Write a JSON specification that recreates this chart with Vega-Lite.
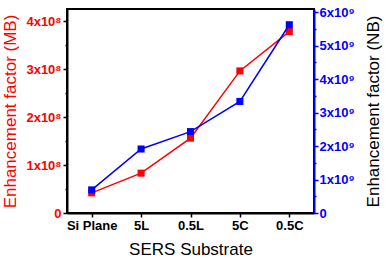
{
  "$schema": "https://vega.github.io/schema/vega-lite/v6.json",
  "width": 247,
  "height": 204,
  "autosize": {"type": "none"},
  "padding": {"left": 67, "top": 9, "right": 73, "bottom": 45},
  "config": {
    "view": {"stroke": "black", "strokeWidth": 2},
    "font": "Liberation Sans",
    "axis": {"labelFont": "Liberation Sans", "titleFont": "Liberation Sans", "grid": false}
  },
  "data": {
    "values": [
      {"substrate": "Si Plane", "mb": 42000000, "nb": 690000000},
      {"substrate": "5L", "mb": 83000000, "nb": 1910000000},
      {"substrate": "0.5L", "mb": 156000000, "nb": 2430000000},
      {"substrate": "5C", "mb": 296000000, "nb": 3330000000},
      {"substrate": "0.5C", "mb": 378000000, "nb": 5620000000}
    ]
  },
  "encoding": {
    "x": {
      "field": "substrate",
      "type": "nominal",
      "sort": ["Si Plane", "5L", "0.5L", "5C", "0.5C"],
      "scale": {"type": "point", "padding": 0.5},
      "axis": {
        "title": "SERS Substrate",
        "labelAngle": 0,
        "labelFontWeight": "bold",
        "labelFontSize": 13,
        "labelColor": "black",
        "labelPadding": 2,
        "titleFontSize": 17,
        "titleFontWeight": "normal",
        "titleColor": "black",
        "titlePadding": 9,
        "domainColor": "black",
        "domainWidth": 2,
        "tickColor": "black",
        "tickWidth": 1.5,
        "tickSize": 4
      }
    }
  },
  "layer": [
    {
      "encoding": {
        "y": {
          "field": "mb",
          "type": "quantitative",
          "scale": {"domain": [0, 425000000], "nice": false},
          "axis": {
            "orient": "left",
            "title": "Enhancement factor (MB)",
            "titleColor": "red",
            "titleFontSize": 17,
            "titleFontWeight": "normal",
            "titlePadding": 6,
            "labelColor": "red",
            "labelFontWeight": "bold",
            "labelFontSize": 13,
            "labelPadding": 2,
            "values": [0, 50000000, 100000000, 150000000, 200000000, 250000000, 300000000, 350000000, 400000000],
            "labelExpr": "datum.value % 100000000 == 0 ? (datum.value == 0 ? '0' : format(datum.value / 100000000, 'd') + 'x10⁸') : ''",
            "domainColor": "black",
            "domainWidth": 2,
            "tickColor": "black",
            "tickWidth": 1.5,
            "tickSize": {"condition": {"test": "datum.value % 100000000 == 0", "value": 4}, "value": 2}
          }
        }
      },
      "layer": [
        {"mark": {"type": "line", "color": "red", "strokeWidth": 1.5}},
        {"mark": {"type": "square", "color": "red", "size": 50, "opacity": 1, "filled": true}}
      ]
    },
    {
      "encoding": {
        "y": {
          "field": "nb",
          "type": "quantitative",
          "scale": {"domain": [0, 6090000000], "nice": false},
          "axis": {
            "orient": "right",
            "title": "Enhancement factor (NB)",
            "titleAngle": 270,
            "titleBaseline": "top",
            "titleColor": "black",
            "titleFontSize": 17,
            "titleFontWeight": "normal",
            "titlePadding": 11,
            "labelColor": "blue",
            "labelFontWeight": "bold",
            "labelFontSize": 13,
            "labelPadding": 1,
            "values": [0, 500000000, 1000000000, 1500000000, 2000000000, 2500000000, 3000000000, 3500000000, 4000000000, 4500000000, 5000000000, 5500000000, 6000000000],
            "labelExpr": "datum.value % 1000000000 == 0 ? (datum.value == 0 ? '0' : format(datum.value / 1000000000, 'd') + 'x10⁹') : ''",
            "domainColor": "blue",
            "domainWidth": 2,
            "tickColor": "blue",
            "tickWidth": 1.5,
            "tickSize": {"condition": {"test": "datum.value % 1000000000 == 0", "value": 4}, "value": 2}
          }
        }
      },
      "layer": [
        {"mark": {"type": "line", "color": "blue", "strokeWidth": 1.5}},
        {"mark": {"type": "square", "color": "blue", "size": 50, "opacity": 1, "filled": true}}
      ]
    }
  ],
  "resolve": {"scale": {"y": "independent"}}
}
